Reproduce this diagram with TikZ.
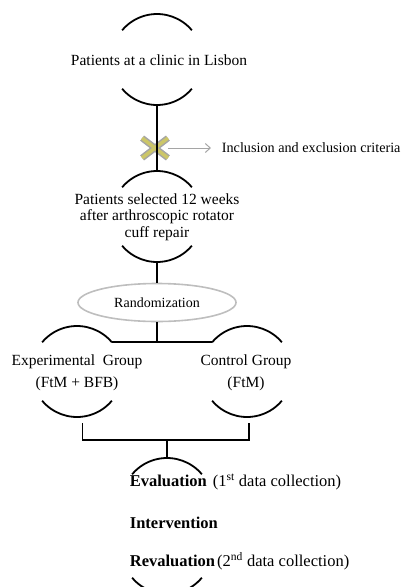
\documentclass[tikz,border=0pt]{standalone}
\usepackage{fontspec}
\setmainfont{Liberation Serif}
\usetikzlibrary{arrows.meta,shapes.geometric}
\definecolor{crossfill}{RGB}{204,198,104}
\definecolor{crossedge}{RGB}{165,165,165}
\definecolor{ovaledge}{RGB}{190,190,190}

\begin{document}
\begin{tikzpicture}[x=1pt,y=1pt,line width=1.8pt,
    ring/.style={circle,minimum size=91pt,inner sep=0pt,outer sep=0pt},
    txt/.style={font=\fontsize{15.5}{16.5}\selectfont,align=center,inner sep=0pt},
    steptxt/.style={font=\fontsize{16.5}{19}\selectfont,anchor=west,inner sep=0pt}]
    \useasboundingbox (0,0) rectangle (401,-587);
    \clip (0,0) rectangle (401,-587);

    \node[ring] (clinic) at (157,-59.5) {};
    \node[ring] (selected) at (157,-216.5) {};
    \node[ring] (expgroup) at (77,-371.5) {};
    \node[ring] (ctrlgroup) at (247,-371.5) {};
    \node[ring] (evalup) at (167,-503.5) {};
    \node[ring] (evaldown) at (167,-548.5) {};

    \foreach \r in {clinic,selected,expgroup,ctrlgroup} {
      \draw (\r.40) arc[start angle=40,end angle=140,radius=45.5pt];
      \draw (\r.220) arc[start angle=220,end angle=320,radius=45.5pt];
    }
    \draw (evalup.40) arc[start angle=40,end angle=140,radius=45.5pt];
    \draw (evaldown.220) arc[start angle=220,end angle=320,radius=45.5pt];

    \node[txt] (clinictxt) at (159,-60) {Patients at a clinic in Lisbon};
    \node[txt] (selectedtxt) at (157,-217) {Patients selected 12 weeks\\after arthroscopic rotator\\cuff repair};
    \node[draw=ovaledge,ellipse,line width=1.6pt,minimum width=158pt,minimum height=38pt,
      font=\fontsize{14}{16}\selectfont] (random) at (157,-302.5) {Randomization};
    \node[txt,font=\fontsize{15.5}{22}\selectfont] (exptxt) at (77,-373) {Experimental\ \ Group\\(FtM + BFB)};
    \node[txt,font=\fontsize{15.5}{22}\selectfont] (ctrltxt) at (246,-373) {Control Group\\(FtM)};

    \node[minimum width=24pt,minimum height=18pt,inner sep=0pt] (cross) at (155,-148) {};
    \node[anchor=west,inner sep=0pt,font=\fontsize{14.2}{16}\selectfont] (criteria) at (221,-148) {Inclusion and exclusion criteria};

    \draw[crossedge,line width=6.5pt] (cross.north west) -- (cross.south east) (cross.north east) -- (cross.south west);
    \draw[crossfill,line width=3.5pt] (cross.north west) -- (cross.south east) (cross.north east) -- (cross.south west);
    \draw[crossedge,line width=1pt,-{Straight Barb[length=5pt,width=9pt]}] (cross.east) -- ([xshift=-10pt]criteria.west);
    \draw (clinic.south) -- (selected.north);

    \draw (selected.south) -- (random.north);
    \draw (random.south) -- (random.south |- expgroup.40);
    \draw (expgroup.40) -- (ctrlgroup.140);

    \coordinate (expfoot) at (82.5,-423);
    \coordinate (ctrlfoot) at (249,-423);
    \coordinate (bracket) at (167,-440);
    \draw (expfoot) |- (bracket) -| (ctrlfoot);
    \draw (bracket) -- (evalup.north);

    \node[steptxt] (evaluation) at (129,-482) {\textbf{Evaluation}\hspace{6pt}(1\textsuperscript{st} data collection)};
    \node[steptxt] (intervention) at (129,-523) {\textbf{Intervention}};
    \node[steptxt] (revaluation) at (129,-561) {\textbf{Revaluation}\hspace{2pt}(2\textsuperscript{nd} data collection)};
\end{tikzpicture}
\end{document}
